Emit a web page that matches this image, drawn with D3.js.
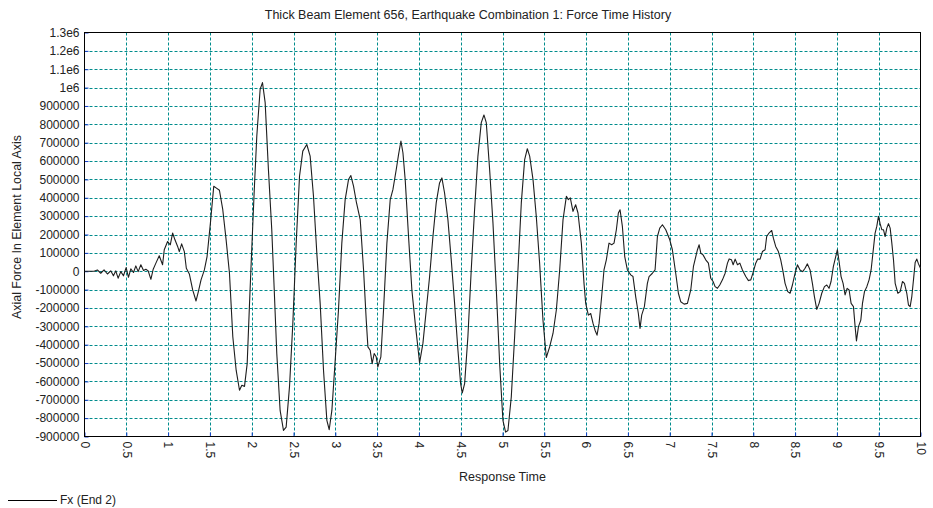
<!DOCTYPE html>
<html>
<head>
<meta charset="utf-8">
<script src="https://cdn.jsdelivr.net/npm/d3@7"></script>
<style>
  body { margin: 0; background: #fff; }
  svg { display: block; font-family: "Liberation Sans", Arial, sans-serif; }
</style>
</head>
<body>
<svg id="chart" width="933" height="508"></svg>
<script>
// response time (s)
const times = [
  0, 0.114, 0.154, 0.194, 0.234, 0.274, 0.314, 0.346, 0.374, 0.402, 0.434, 0.466, 0.498, 0.526, 0.554, 0.586,
  0.614, 0.642, 0.674, 0.706, 0.734, 0.762, 0.794, 0.822, 0.854, 0.894, 0.934, 0.954, 0.994, 1.026, 1.054, 1.082,
  1.114, 1.134, 1.162, 1.194, 1.218, 1.254, 1.294, 1.334, 1.362, 1.394, 1.434, 1.466, 1.506, 1.546, 1.574, 1.614,
  1.654, 1.694, 1.734, 1.774, 1.814, 1.854, 1.882, 1.914, 1.946, 1.974, 2.002,
  2.029, 2.061, 2.101, 2.129, 2.161, 2.200, 2.240, 2.268, 2.300, 2.340, 2.380, 2.412, 2.452, 2.492, 2.532, 2.572,
  2.611, 2.659, 2.699, 2.739, 2.779, 2.819, 2.859, 2.899, 2.927, 2.959, 2.999, 3.038, 3.078, 3.118, 3.158, 3.186,
  3.218, 3.250, 3.298, 3.338, 3.370, 3.390, 3.417, 3.441, 3.465, 3.489, 3.509, 3.545, 3.577, 3.617, 3.657, 3.689,
  3.729, 3.757, 3.785, 3.809, 3.836, 3.876, 3.916, 3.956, 3.996,
  4.008, 4.048, 4.088, 4.128, 4.168, 4.207, 4.247, 4.275, 4.307, 4.347, 4.387, 4.427, 4.467, 4.499, 4.519, 4.547,
  4.586, 4.626, 4.666, 4.706, 4.746, 4.778, 4.806, 4.846, 4.886, 4.926, 4.966, 5.005, 5.037, 5.065, 5.105, 5.145,
  5.185, 5.225, 5.265, 5.297, 5.325, 5.365, 5.404, 5.444, 5.484, 5.524, 5.564, 5.604, 5.644, 5.684, 5.724, 5.764,
  5.788, 5.811, 5.843, 5.875, 5.903, 5.943,
  5.975, 5.995, 6.027, 6.055, 6.083, 6.107, 6.131, 6.155, 6.186, 6.214, 6.242, 6.274, 6.306, 6.334, 6.362, 6.386,
  6.406, 6.434, 6.462, 6.494, 6.534, 6.561, 6.593, 6.625, 6.645, 6.665, 6.697, 6.733, 6.753, 6.793, 6.825, 6.853,
  6.881, 6.913, 6.953, 7.001, 7.032, 7.072, 7.104, 7.132, 7.172, 7.212, 7.252, 7.284, 7.312, 7.332, 7.352, 7.372,
  7.399, 7.431, 7.463, 7.491, 7.519, 7.543, 7.571, 7.599, 7.631, 7.663, 7.691, 7.711, 7.739, 7.759, 7.783, 7.811,
  7.839, 7.870, 7.910, 7.942, 7.970,
  8.001, 8.029, 8.053, 8.081, 8.109, 8.141, 8.160, 8.188, 8.220, 8.240, 8.268, 8.300, 8.328, 8.352, 8.380, 8.412,
  8.440, 8.468, 8.500, 8.528, 8.559, 8.591, 8.619, 8.647, 8.679, 8.707, 8.731, 8.759, 8.787, 8.819, 8.851, 8.879,
  8.906, 8.930, 8.958, 8.986, 9.006, 9.026, 9.050, 9.074, 9.098, 9.122, 9.146, 9.170, 9.198, 9.218, 9.234, 9.258,
  9.286, 9.306, 9.330, 9.358, 9.385, 9.409, 9.433, 9.457, 9.477, 9.497, 9.517, 9.537, 9.557, 9.577, 9.597, 9.617,
  9.637, 9.657, 9.677, 9.697, 9.729, 9.757, 9.784, 9.808, 9.836, 9.856, 9.876, 9.896, 9.916, 9.936, 9.956, 9.976,
  10.0
];

// Fx (End 2), axial force in element local axis
const forceFx = [
  0, 0, 7000, -11000, 7000, -15000, 2000, -25000, 2000, -38000, -2000, -25000, 20000, -33000, 13000, -7000,
  29000, -2000, 35000, 4000, 11000, 2000, -44000, 11000, 44000, 84000, 35000, 117000, 162000, 144000, 208000, 171000,
  135000, 107000, 149000, 107000, 16000, -15000, -102000, -162000, -111000, -47000, 7000, 80000, 262000, 463000, 454000, 441000,
  335000, 171000, -11000, -357000, -539000, -648000, -621000, -627000, -503000, -175000, 135000,
  426000, 736000, 991000, 1027000, 918000, 554000, 226000, -84000, -448000, -758000, -867000, -849000, -630000, -284000, 153000, 517000,
  654000, 690000, 627000, 408000, 98000, -175000, -539000, -812000, -863000, -758000, -484000, -211000, 153000, 390000, 499000, 521000,
  463000, 381000, 281000, 7000, -266000, -412000, -430000, -503000, -448000, -466000, -521000, -466000, -211000, 153000, 390000, 444000,
  554000, 636000, 709000, 645000, 499000, 189000, -102000, -284000, -448000,
  -499000, -393000, -211000, -29000, 189000, 372000, 481000, 508000, 426000, 281000, 62000, -175000, -430000, -612000, -663000, -612000,
  -357000, 7000, 335000, 627000, 809000, 851000, 809000, 554000, 262000, -102000, -503000, -812000, -876000, -867000, -685000, -357000,
  7000, 372000, 608000, 667000, 627000, 499000, 299000, 44000, -266000, -470000, -412000, -339000, -211000, 7000, 281000, 408000,
  390000, 399000, 326000, 362000, 317000, 153000,
  -66000, -175000, -239000, -230000, -284000, -321000, -348000, -284000, -138000, 7000, 62000, 153000, 144000, 153000, 226000, 317000,
  335000, 244000, 80000, 7000, -20000, -29000, -138000, -230000, -311000, -239000, -193000, -66000, -29000, -11000, 7000, 189000,
  235000, 253000, 226000, 171000, 117000, -11000, -120000, -166000, -179000, -175000, -102000, 26000, 80000, 117000, 144000, 98000,
  89000, 62000, 44000, -38000, -56000, -84000, -93000, -75000, -47000, -11000, 44000, 67000, 62000, 35000, 66000, 35000,
  44000, 7000, -29000, -51000, -47000,
  -2000, 44000, 66000, 66000, 107000, 117000, 189000, 208000, 222000, 180000, 135000, 107000, 62000, 7000, -66000, -111000,
  -120000, -75000, -11000, 35000, 7000, -2000, 16000, 40000, 7000, -66000, -138000, -208000, -175000, -120000, -84000, -75000,
  -93000, -56000, 26000, 80000, 117000, 53000, -29000, -66000, -129000, -93000, -102000, -175000, -193000, -302000, -379000, -302000,
  -266000, -175000, -111000, -84000, -47000, 7000, 107000, 208000, 244000, 299000, 259000, 226000, 226000, 189000, 235000, 259000,
  235000, 153000, 62000, -66000, -120000, -111000, -56000, -66000, -120000, -184000, -193000, -138000, -47000, 47000, 66000, 40000,
  16000
];

const xTickValues = [0, 0.5, 1, 1.5, 2, 2.5, 3, 3.5, 4, 4.5, 5, 5.5, 6, 6.5, 7, 7.5, 8, 8.5, 9, 9.5, 10];
const yTickValues = [-900000, -800000, -700000, -600000, -500000, -400000, -300000, -200000, -100000, 0,
  100000, 200000, 300000, 400000, 500000, 600000, 700000, 800000, 900000, 1000000, 1100000, 1200000, 1300000];

const titleText = "Thick Beam Element 656, Earthquake Combination 1: Force Time History";
const xTitle = "Response Time";
const yTitle = "Axial Force In Element Local Axis";
const seriesName = "Fx (End 2)";

const svg = d3.select("#chart");
const plot = {left: 84.5, right: 920.5, top: 32.5, bottom: 436.5};

const x = d3.scaleLinear().domain([0, 10]).range([plot.left, plot.right]);
const y = d3.scaleLinear().domain([-900000, 1300000]).range([plot.bottom, plot.top]);

function fmtY(v) {
  // the original shows the big values in e-notation
  if (v >= 1000000) return (Math.round(v / 100000) / 10) + "e6";
  return String(v);
}

// grid
const grid = svg.append("g").attr("class", "grid");
grid.selectAll(".vline")
  .data(xTickValues.slice(1, -1))
  .enter().append("line")
  .attr("x1", d => Math.round(x(d)) + 0.5).attr("x2", d => Math.round(x(d)) + 0.5)
  .attr("y1", plot.top).attr("y2", plot.bottom)
  .attr("stroke", "#008c8c").attr("stroke-dasharray", "3,2");
grid.selectAll(".hline")
  .data(yTickValues.slice(1, -1))
  .enter().append("line")
  .attr("y1", d => Math.round(y(d)) + 0.5).attr("y2", d => Math.round(y(d)) + 0.5)
  .attr("x1", plot.left).attr("x2", plot.right)
  .attr("stroke", "#008c8c").attr("stroke-dasharray", "3,2");

// axes (short blue ticks inside the frame)
const xAxis = svg.append("g")
  .attr("transform", "translate(0," + plot.bottom + ")")
  .call(d3.axisBottom(x).tickValues(xTickValues).tickSize(-4).tickFormat(d => String(d)));
xAxis.select(".domain").remove();
xAxis.selectAll(".tick line").attr("stroke", "#1a3fcc");
xAxis.selectAll(".tick text")
  .attr("transform", "rotate(90)")
  .attr("x", 5).attr("y", 0).attr("dy", "0.35em")
  .style("text-anchor", "start")
  .style("font-size", "12px").attr("fill", "#222");

const yAxis = svg.append("g")
  .attr("transform", "translate(" + plot.left + ",0)")
  .call(d3.axisLeft(y).tickValues(yTickValues).tickSize(-4).tickFormat(fmtY));
yAxis.select(".domain").remove();
yAxis.selectAll(".tick line").attr("stroke", "#1a3fcc");
yAxis.selectAll(".tick text")
  .attr("x", -5)
  .style("font-size", "12px").attr("fill", "#222");
svg.selectAll(".tick text").style("font-family", "'Liberation Sans', Arial, sans-serif");

// frame
svg.append("rect")
  .attr("x", plot.left).attr("y", plot.top)
  .attr("width", plot.right - plot.left).attr("height", plot.bottom - plot.top)
  .attr("fill", "none").attr("stroke", "#000");

// series
const pts = times.map((t, i) => [t, forceFx[i]]);
svg.append("path")
  .datum(pts)
  .attr("fill", "none")
  .attr("stroke", "#1e1e1e")
  .attr("stroke-width", 1.1)
  .attr("stroke-linejoin", "round")
  .attr("d", d3.line().x(d => x(d[0])).y(d => y(d[1])));

// texts
svg.append("text")
  .attr("x", 468).attr("y", 19)
  .attr("text-anchor", "middle")
  .style("font-size", "12.5px").attr("fill", "#222")
  .text(titleText);

svg.append("text")
  .attr("x", (plot.left + plot.right) / 2).attr("y", 481)
  .attr("text-anchor", "middle")
  .style("font-size", "12.5px").attr("fill", "#222")
  .text(xTitle);

svg.append("text")
  .attr("transform", "translate(21,227) rotate(-90)")
  .attr("text-anchor", "middle")
  .style("font-size", "12.4px").attr("fill", "#222")
  .text(yTitle);

// legend
svg.append("line")
  .attr("x1", 8).attr("x2", 57).attr("y1", 500.5).attr("y2", 500.5)
  .attr("stroke", "#000");
svg.append("text")
  .attr("x", 60).attr("y", 500).attr("dy", "0.35em")
  .style("font-size", "12px").attr("fill", "#222")
  .text(seriesName);
</script>
</body>
</html>
